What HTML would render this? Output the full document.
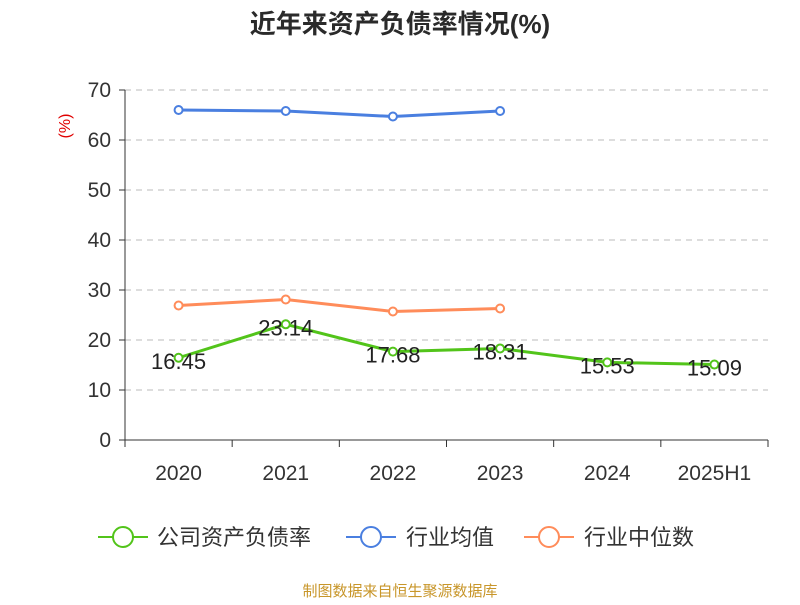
<!DOCTYPE html>
<html><head><meta charset="utf-8"><style>
body{margin:0;background:#fff;font-family:"Liberation Sans","Noto Sans CJK SC",sans-serif;}
</style></head><body>
<svg id="c" width="800" height="600" xmlns="http://www.w3.org/2000/svg">
<text x="400" y="33" text-anchor="middle" font-size="26" font-weight="bold" fill="#2a2a2a" font-family="Liberation Sans, Noto Sans CJK SC, sans-serif">近年来资产负债率情况(%)</text>
<text x="70" y="126" text-anchor="middle" font-size="16" fill="#e00000" transform="rotate(-90 70 126)">(%)</text>
<g id="grid"></g><g id="axes"></g><g id="series"></g>
<g font-family="Liberation Sans, Noto Sans CJK SC, sans-serif" font-size="22" fill="#333">
<g><line x1="98" y1="537" x2="148" y2="537" stroke="#52c41a" stroke-width="2"/><circle cx="123" cy="537" r="10" fill="#fff" stroke="#52c41a" stroke-width="2"/><text x="157" y="545">公司资产负债率</text></g>
<g><line x1="346" y1="537" x2="396" y2="537" stroke="#4a7fe0" stroke-width="2"/><circle cx="371" cy="537" r="10" fill="#fff" stroke="#4a7fe0" stroke-width="2"/><text x="406" y="545">行业均值</text></g>
<g><line x1="524" y1="537" x2="574" y2="537" stroke="#ff8c5a" stroke-width="2"/><circle cx="549" cy="537" r="10" fill="#fff" stroke="#ff8c5a" stroke-width="2"/><text x="584" y="545">行业中位数</text></g>
</g>
<text x="400" y="596" text-anchor="middle" font-size="15" fill="#c8962a" font-family="Liberation Sans, Noto Sans CJK SC, sans-serif">制图数据来自恒生聚源数据库</text>
</svg>
<script>
const categories=["2020","2021","2022","2023","2024","2025H1"];
const companyVals=[16.45,23.14,17.68,18.31,15.53,15.09];
const avgVals=[66.0,65.8,64.7,65.8];
const medianVals=[26.9,28.1,25.7,26.3];
const yTicks=[0,10,20,30,40,50,60,70];
const NS="http://www.w3.org/2000/svg";
const x0=125,x1=768,y0=440,yTop=90,yMax=70;
const bw=(x1-x0)/categories.length;
const xs=i=>x0+bw*(i+0.5);
const ys=v=>y0-(v/yMax)*(y0-yTop);
function mk(t,a,p){const e=document.createElementNS(NS,t);for(const k in a)e.setAttribute(k,a[k]);p.appendChild(e);return e;}
const grid=document.getElementById('grid'),axes=document.getElementById('axes'),ser=document.getElementById('series');
yTicks.forEach(v=>{
 if(v>0){const g=mk('line',{x1:x0,x2:x1,y1:ys(v),y2:ys(v),stroke:'#bbb','stroke-dasharray':'6,5'},grid);
 
 }
 const tk=mk('line',{x1:x0-6,x2:x0,y1:ys(v),y2:ys(v),stroke:'#333'},axes);
 
 
 const t=mk('text',{x:x0-14,y:ys(v)+7,'text-anchor':'end','font-size':21,fill:'#333'},axes);
 t.textContent=v;
 
 
});
const ya=mk('line',{x1:x0,x2:x0,y1:yTop,y2:y0,stroke:'#333'},axes);


const xa=mk('line',{x1:x0,x2:x1,y1:y0,y2:y0,stroke:'#333'},axes);


for(let i=0;i<=categories.length;i++){const l=mk('line',{x1:x0+bw*i,x2:x0+bw*i,y1:y0,y2:y0+7,stroke:'#333'},axes);
 
 }
categories.forEach((c,i)=>{const t=mk('text',{x:xs(i),y:y0+40,'text-anchor':'middle','font-size':21,fill:'#333'},axes);
 t.textContent=c;
 
 });
function series(vals,color,name,labels){
 const g=mk('g',{},ser);
 
 
 const pl=mk('polyline',{points:vals.map((v,i)=>xs(i)+','+ys(v)).join(' '),fill:'none',stroke:color,'stroke-width':3},g);
 
 
 vals.forEach((v,i)=>{const c=mk('circle',{cx:xs(i),cy:ys(v),r:4,fill:'#fff',stroke:color,'stroke-width':2},g);
  
  
  if(labels){const t=mk('text',{x:xs(i),y:ys(v)+11,'text-anchor':'middle','font-size':22,fill:'#222'},g);
  t.textContent=v.toFixed(2);
  
  }});
}
series(avgVals,'#4a7fe0','industry-avg-series',false);
series(medianVals,'#ff8c5a','industry-median-series',false);
series(companyVals,'#52c41a','company-series',true);
</script>
</body></html>
